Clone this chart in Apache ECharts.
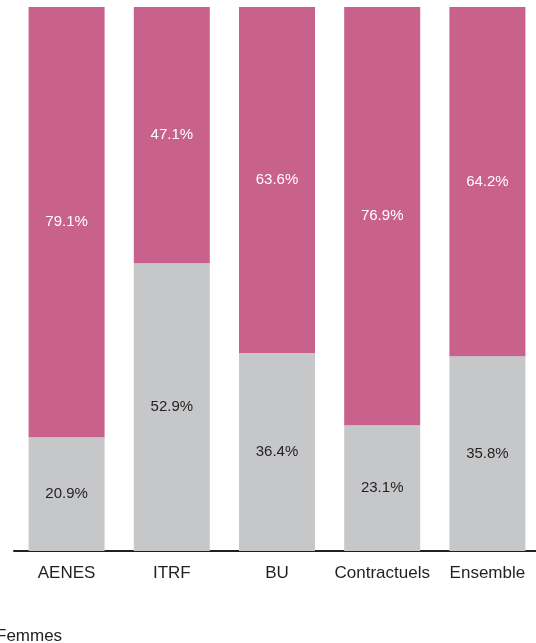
<!DOCTYPE html>
<html>
<head>
<meta charset="utf-8">
<script src="https://cdn.jsdelivr.net/npm/echarts@6/dist/echarts.min.js"></script>
<style>
html,body{margin:0;padding:0;background:#fff;overflow:hidden;}
#main{width:540px;height:643px;}
</style>
</head>
<body>
<div id="main"></div>
<script>
// catégories et parts (%)
var categories = ['AENES', 'ITRF', 'BU', 'Contractuels', 'Ensemble'];
var hommes = [20.9, 52.9, 36.4, 23.1, 35.8];
var femmes = [79.1, 47.1, 63.6, 76.9, 64.2];

var fnt = "'Liberation Sans', Arial, sans-serif";

var myChart = echarts.init(document.getElementById('main'));
var option = {
    animation: false,
    grid: {
        left: 14,
        right: 0,
        top: 7,
        bottom: 92
    },
    legend: {
        data: ['Femmes'],
        left: -39,
        top: 623,
        itemWidth: 25,
        itemHeight: 14,
        itemGap: 5,
        textStyle: {
            fontFamily: fnt,
            fontSize: 17,
            color: '#222'
        }
    },
    xAxis: {
        type: 'category',
        data: categories,
        axisLine: {
            show: true,
            lineStyle: { color: '#231F20', width: 2 }
        },
        axisTick: { show: false },
        axisLabel: {
            interval: 0,
            margin: 14,
            fontFamily: fnt,
            fontSize: 17,
            color: '#231F20'
        }
    },
    yAxis: {
        type: 'value',
        min: 0,
        max: 100,
        show: false
    },
    series: [
        {
            name: 'Hommes',
            type: 'bar',
            stack: 'total',
            barWidth: 76,
            data: hommes,
            itemStyle: { color: '#C6C7C9' },
            label: {
                show: true,
                position: 'inside',
                formatter: '{c}%',
                fontFamily: fnt,
                fontSize: 15,
                color: '#231F20'
            }
        },
        {
            name: 'Femmes',
            type: 'bar',
            stack: 'total',
            barWidth: 76,
            data: femmes,
            itemStyle: { color: '#C8628C' },
            label: {
                show: true,
                position: 'inside',
                formatter: '{c}%',
                fontFamily: fnt,
                fontSize: 15,
                color: '#fff'
            }
        }
    ]
};
myChart.setOption(option);
</script>
</body>
</html>
